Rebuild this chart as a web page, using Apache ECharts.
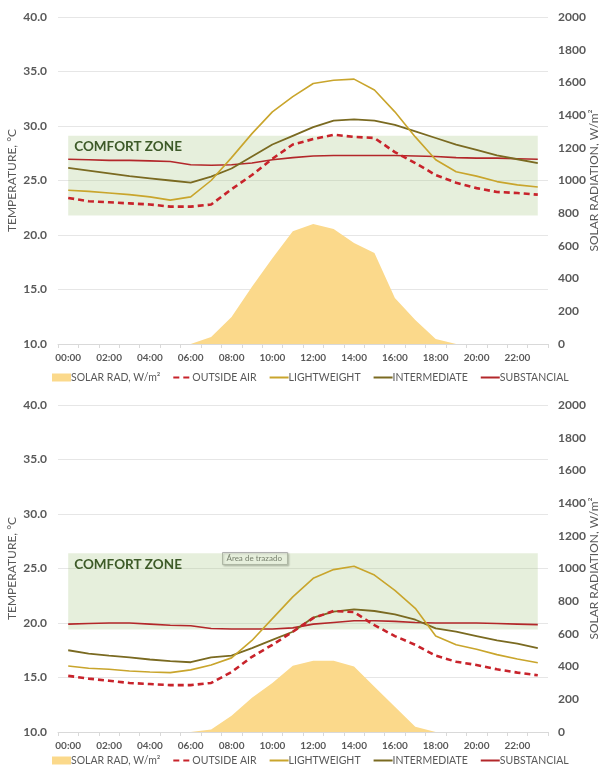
<!DOCTYPE html>
<html><head><meta charset="utf-8">
<script src="https://cdn.jsdelivr.net/npm/echarts@6/dist/echarts.min.js"></script>
<style>html,body{margin:0;padding:0;background:#fff}#c1,#c2{width:599px;height:386px}</style>
</head><body><div id="c1"></div><div id="c2"></div>
<script>
const hours = ["00:00","01:00","02:00","03:00","04:00","05:00","06:00","07:00","08:00","09:00","10:00","11:00","12:00","13:00","14:00","15:00","16:00","17:00","18:00","19:00","20:00","21:00","22:00","23:00"];
const seriesNames = ["SOLAR RAD, W/m²","OUTSIDE AIR","LIGHTWEIGHT","INTERMEDIATE","SUBSTANCIAL"];

const topSolar   = [0,0,0,0,0,0,0,43,165,350,525,690,734,703,618,556,281,147,31,0,0,0,0,0];
const topOutside = [23.4,23.1,23.0,22.9,22.8,22.6,22.6,22.8,24.2,25.5,27.0,28.3,28.8,29.2,29.0,28.9,27.6,26.6,25.5,24.8,24.3,23.95,23.85,23.7];
const topLight   = [24.1,24.0,23.85,23.7,23.5,23.2,23.5,25.0,27.1,29.3,31.3,32.7,33.9,34.2,34.3,33.3,31.3,29.0,26.9,25.8,25.4,24.9,24.6,24.4];
const topInter   = [26.15,25.9,25.65,25.4,25.2,25.0,24.8,25.35,26.1,27.2,28.3,29.1,29.9,30.5,30.6,30.5,30.1,29.5,28.9,28.3,27.8,27.3,26.95,26.6];
const topSub     = [26.95,26.9,26.85,26.85,26.8,26.75,26.45,26.4,26.45,26.6,26.9,27.1,27.25,27.3,27.3,27.3,27.3,27.25,27.2,27.1,27.05,27.05,27.0,26.95];
const topComfort = [21.8, 29.1];

const botSolar   = [0,0,0,0,0,0,0,15,100,210,300,405,436,436,400,277,155,32,0,0,0,0,0,0];
const botOutside = [15.15,14.9,14.7,14.5,14.4,14.3,14.3,14.5,15.5,16.9,18.0,19.2,20.45,21.1,21.0,19.8,18.8,18.0,17.0,16.45,16.15,15.75,15.45,15.2];
const botLight   = [16.05,15.85,15.75,15.6,15.5,15.45,15.7,16.15,16.8,18.4,20.4,22.4,24.1,24.9,25.2,24.4,23.0,21.35,18.8,18.0,17.6,17.1,16.7,16.35];
const botInter   = [17.5,17.2,17.0,16.85,16.65,16.5,16.4,16.85,17.0,17.7,18.45,19.2,20.5,21.05,21.25,21.1,20.8,20.3,19.5,19.2,18.8,18.4,18.1,17.7];
const botSub     = [19.9,19.95,20.0,20.0,19.9,19.8,19.75,19.5,19.45,19.45,19.45,19.55,19.9,20.05,20.2,20.2,20.15,20.05,20.0,20.0,20.0,19.95,19.9,19.85];
const botComfort = [19.4, 26.4];

const tempAxis = {min:10, max:40, interval:5};
const radAxis = {min:0, max:2000, interval:200};

const FONT = 'Lato';
const GRAY = '#595959';

function makeOption(d) {
  const hid = {opacity: 0};
  return {
    animation: false,
    textStyle: {fontFamily: FONT},
    grid: {left: 58, right: 51, top: d.gridTop, height: 327, outerBoundsMode: 'none', containLabel: false},
    legend: {
      top: d.legendTop, left: 47, itemWidth: 19, itemHeight: 8, itemGap: 12,
      textStyle: {fontSize: 10.5, color: GRAY, fontFamily: FONT, padding: [0, 0, 0, -5]},
      data: [
        {name: seriesNames[0], icon: 'rect'},
        {name: seriesNames[1], itemStyle: hid},
        {name: seriesNames[2], itemStyle: hid},
        {name: seriesNames[3], itemStyle: hid},
        {name: seriesNames[4], itemStyle: hid}
      ]
    },
    graphic: d.graphic || [],
    xAxis: {
      type: 'category', data: hours, boundaryGap: true,
      axisLine: {lineStyle: {color: '#d9d9d9'}},
      axisTick: {show: true, interval: 0, length: 4, lineStyle: {color: '#d9d9d9'}},
      axisLabel: {interval: 1, fontSize: 10, color: GRAY, fontWeight: 'bold', margin: 9}
    },
    yAxis: [
      {type: 'value', min: tempAxis.min, max: tempAxis.max, interval: tempAxis.interval,
       name: 'TEMPERATURE, °C', nameLocation: 'middle', nameGap: 40, nameRotate: 90, nameMoveOverlap: false,
       nameTextStyle: {fontSize: 12, color: GRAY, fontFamily: FONT},
       axisLabel: {formatter: v => v.toFixed(1), fontSize: 12, fontWeight: 'bold', color: GRAY, margin: 11},
       axisLine: {show: false}, axisTick: {show: false},
       splitLine: {lineStyle: {color: '#e6e6e6'}}},
      {type: 'value', position: 'right', min: radAxis.min, max: radAxis.max, interval: radAxis.interval,
       name: 'SOLAR RADIATION, W/m²', nameLocation: 'middle', nameGap: 40, nameRotate: 90, nameMoveOverlap: false,
       nameTextStyle: {fontSize: 12, color: GRAY, fontFamily: FONT},
       axisLabel: {formatter: v => String(v), fontSize: 12, fontWeight: 'bold', color: GRAY, margin: 10},
       axisLine: {show: false}, axisTick: {show: false}, splitLine: {show: false}}
    ],
    series: [
      {name: 'comfort', type: 'line', data: [], z: 1, silent: true,
       markArea: {silent: true,
         itemStyle: {color: 'rgba(172,202,138,0.3)'},
         label: {show: true, position: 'insideTopLeft', distance: 4, offset: [2, 0], color: '#3d5a28', fontSize: 13.5, fontWeight: 'bold', fontFamily: FONT},
         data: [[{name: 'COMFORT ZONE', xAxis: hours[0], yAxis: d.comfort[0]}, {xAxis: hours[hours.length - 1], yAxis: d.comfort[1]}]]}},
      {name: seriesNames[0], type: 'line', yAxisIndex: 1, data: d.solar, symbol: 'none', z: 2,
       lineStyle: {width: 0}, itemStyle: {color: '#fbd98b'}, areaStyle: {color: '#fbd98b', opacity: 1}},
      {name: seriesNames[4], type: 'line', data: d.sub, symbol: 'none', z: 3,
       lineStyle: {width: 1.6, color: '#b3272a'}, itemStyle: {color: '#b3272a'}},
      {name: seriesNames[3], type: 'line', data: d.inter, symbol: 'none', z: 3,
       lineStyle: {width: 1.8, color: '#7a6a21'}, itemStyle: {color: '#7a6a21'}},
      {name: seriesNames[2], type: 'line', data: d.light, symbol: 'none', z: 3,
       lineStyle: {width: 1.6, color: '#c9a52c'}, itemStyle: {color: '#c9a52c'}},
      {name: seriesNames[1], type: 'line', data: d.outside, symbol: 'none', z: 4,
       lineStyle: {width: 2.6, color: '#c8232b', type: [6, 4]}, itemStyle: {color: '#c8232b'}}
    ]
  };
}

const c1 = echarts.init(document.getElementById('c1'), null, {renderer: 'canvas'});
c1.setOption(makeOption({gridTop: 17, legendTop: 367, solar: topSolar, outside: topOutside, light: topLight, inter: topInter, sub: topSub, comfort: topComfort}));

const c2 = echarts.init(document.getElementById('c2'), null, {renderer: 'canvas'});
c2.setOption(makeOption({gridTop: 19, legendTop: 364, solar: botSolar, outside: botOutside, light: botLight, inter: botInter, sub: botSub, comfort: botComfort,
  graphic: [{type: 'group', left: 222, top: 166, children: [
    {type: 'rect', shape: {x: 0, y: 0, width: 65, height: 12}, style: {fill: '#fff', stroke: '#b0b0b0', lineWidth: 1, shadowBlur: 2, shadowOffsetX: 1, shadowOffsetY: 1, shadowColor: 'rgba(0,0,0,0.25)'}},
    {type: 'text', x: 4, y: 2, style: {text: 'Área de trazado', fontSize: 8, fill: '#606060', fontFamily: FONT}}
  ]}]
}));
</script></body></html>
